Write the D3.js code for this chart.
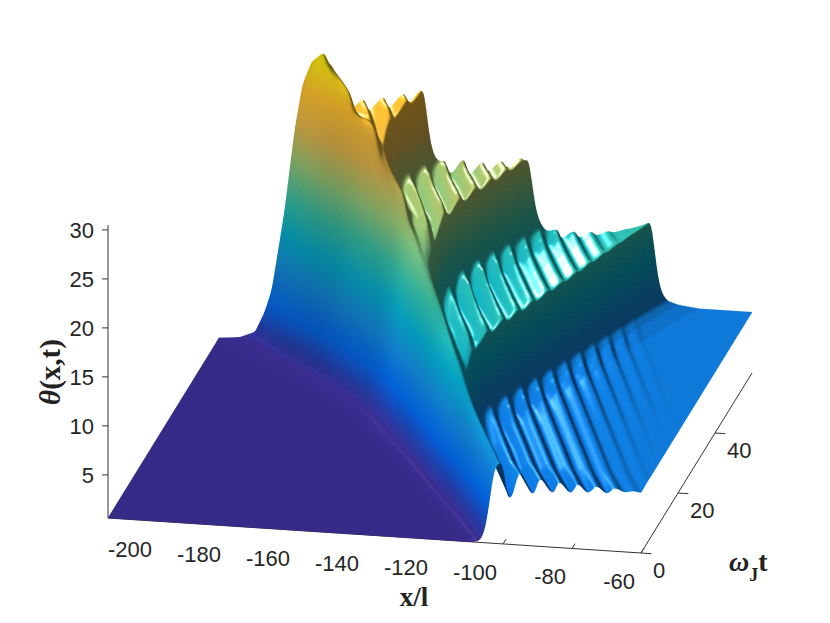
<!DOCTYPE html>
<html>
<head>
<meta charset="utf-8">
<script src="https://cdn.jsdelivr.net/npm/d3@7"></script>
<style>
  html, body { margin: 0; padding: 0; background: #fff; }
  svg { display: block; }
  text { font-family: "Liberation Sans", Arial, sans-serif; fill: #262626; }
  .title { font-family: "Liberation Serif", "Times New Roman", serif; font-weight: bold; fill: #222; }
</style>
</head>
<body>
<script>
// values, one entry per row of tRows
var tRows  = [0, 5, 10, 15, 20, 25, 30, 35, 40, 45, 50, 55, 60];
var footX  = [-106.7, -113, -119.5, -126.5, -133, -139.5, -146.5, -153.5, -160, -170, -180, -193, -204];
var crestX = [-100.9, -106.5, -112.5, -119, -124.5, -130.5, -136.5, -142.5, -147.5, -156.5, -164.5, -176.5, -184.6];
var crestZ = [8.9, 9.3, 10, 11.5, 13.5, 14, 16.2, 18, 19.5, 21.5, 25.5, 27.8, 30.3];

var wall1X = [-99, -104, -110, -117, -122, -128, -134, -140, -145, -154, -162.5, -162, -155.4];
var wall1H = [0, 0, 0, 0, 0, 0, 0, 0, 0, 1.5, 4.5, 5.7, 5.7];
var wall1Lip = [0, 0, 0, 0, 0, 0, 0, 0, 0, 0, 0.4, 1, 2];
var wall2X = [-99, -105, -111, -117.5, -123, -129, -135, -140, -141, -139, -135, -130, -125];
var wall2H = [0, 0, 0, 0, 0, 0, 0, 3, 5.5, 6, 6, 6, 6];
var wall2Lip = [0, 0, 0, 0, 0, 0, 0, 0.3, 0.6, 0.9, 1.1, 1.3, 1.6];
var wall3X = [-100, -105, -110, -117, -122, -118, -114, -110, -106, -102, -98, -94, -89.5];
var wall3H = [0, 0, 0, 2.5, 5.5, 6.6, 6.6, 6.6, 6.6, 6.6, 6.6, 6.6, 6.6];
var wall3Lip = [0, 0, 0, 0, 0.3, 0.7, 0.8, 0.9, 1, 1.2, 1.4, 1.6, 1.9];

// shape of the front, the walls and the lips, read from the back edge of the surface
var faceFrac = [-0.8, -0.5, -0.23, 0, 0.144, 0.25, 0.44, 0.59, 0.71, 0.845, 1];
var faceLift = [0, 0.001, 0.007, 0.029, 0.1, 0.177, 0.45, 0.73, 0.89, 0.97, 1];
var wallRun  = [0, 0.4, 1.2, 2.2, 3.4, 5, 8, 14];
var wallDrop = [0, 0.06, 0.33, 0.66, 0.85, 0.93, 0.97, 1];
var lipRun   = [0, 3, 8, 15, 25];
var lipKeep  = [1, 0.75, 0.45, 0.2, 0];
var crestRun  = [0, 1.5, 3, 4.5, 6, 8];
var crestKeep = [1, 0.97, 0.85, 0.45, 0.15, 0];

// ripples behind the front: position at t=0 and height at five times
var rippleT = [0, 6, 20, 40, 60];
var rippleCrest  = [-130, -124.1, -118.3, -112.5, -106.7, -100.9, -95.1, -89.3, -83.8, -78.3, -72.8, -67.5, -62.3, -57.2, -52.2, -47.3, -42.5];
var rippleTrough = [-127.1, -121.2, -115.4, -109.6, -103.8, -98, -91.3, -85.5, -80.3, -75.4, -69.9, -64.6, -59.7, -54.7, -49.7, -44.9, -40];
var rippleFall  = [1, 0.45, 0.35, 0.3, 0.3];
var rippleAmp0  = [0, 0, 0, 0, 0, 0, 1.15, 0.7, 0.5, 0.4, 0.3, 0.25, 0.07, 0.03, 0, 0, 0];
var rippleAmp6  = [0, 0, 0, 0, 0, 0, 0.6, 0.4, 0.3, 0.25, 0.2, 0.15, 0.07, 0.03, 0, 0, 0];
var rippleAmp20 = [0, 0, 0, 0, 0.2, 0.35, 0.35, 0.3, 0.28, 0.24, 0.2, 0.16, 0.1, 0.05, 0.02, 0, 0];
var rippleAmp40 = [0, 0.3, 0.5, 0.6, 0.7, 0.7, 0.7, 0.7, 0.5, 0.4, 0.3, 0.2, 0.2, 0.14, 0.1, 0.06, 0.03];
var rippleAmp60 = [0.4, 0.5, 0.5, 0.5, 0.5, 0.5, 0.5, 0.5, 0.45, 0.4, 0.3, 0.25, 0.25, 0.25, 0.2, 0.12, 0.06];
var rippleDrift = -0.9;
// how much of a ripple survives at each distance past a wall top
var fadeRun = [-3, 0, 4, 7, 10, 14, 20];
var fadeKeep = [1, 0.3, 0.12, 1, 1.7, 1.2, 1];

var flatLow = 0.6, flatHigh = 6.8;
var xTicks = [-200, -180, -160, -140, -120, -100, -80, -60];
var tTicks = [0, 20, 40];
var zTicks = [5, 10, 15, 20, 25, 30];

var parula = ["#352a87", "#0363e1", "#1485d4", "#06a7c6", "#38b99e", "#92bf73", "#dcb04a", "#f9bb2c", "#e9e30a"];

var width = 830, height = 623;

var svg = d3.select("body").append("svg")
    .attr("width", width)
    .attr("height", height);

// oblique projection, one scale per screen direction of each axis
var xPx = d3.scaleLinear().domain([-214.5, -60]).range([0, 533]);
var xPy = d3.scaleLinear().domain([-214.5, -60]).range([0, 35]);
var tPx = d3.scaleLinear().domain([0, 60]).range([0, 111]);
var tPy = d3.scaleLinear().domain([0, 60]).range([0, -180]);
var zPy = d3.scaleLinear().domain([0.6, 30.5]).range([518, 225]);

function project(x, t, z) {
    return [108 + xPx(x) + tPx(t), zPy(z) + xPy(x) + tPy(t)];
}

var colorScale = d3.scaleLinear()
    .domain(d3.range(parula.length).map(function (i) { return i / (parula.length - 1); }))
    .range(parula)
    .clamp(true);
var colorTable = d3.range(513).map(function (i) { return d3.rgb(colorScale(i / 512)); });

function overT(values) {
    var f = d3.interpolateBasis(values);
    return function (t) { return f(t / 60); };
}
function table(domain, range) {
    return d3.scaleLinear().domain(domain).range(range).clamp(true);
}

var foot = overT(footX), crest = overT(crestX), crestTop = overT(crestZ);
var walls = [
    { x: overT(wall1X), h: overT(wall1H), lip: overT(wall1Lip) },
    { x: overT(wall2X), h: overT(wall2H), lip: overT(wall2Lip) },
    { x: overT(wall3X), h: overT(wall3H), lip: overT(wall3Lip) }
];
var lift = table(faceFrac, faceLift);
var drop = table(wallRun, wallDrop);
var lip = table(lipRun, lipKeep);
var keep = table(crestRun, crestKeep);
var fade = table(fadeRun, fadeKeep);
var fall = table(rippleT, rippleFall);

function rippleAt(t) {
    var amps = rippleAmp0.map(function (d, i) {
        return table(rippleT, [rippleAmp0[i], rippleAmp6[i], rippleAmp20[i], rippleAmp40[i], rippleAmp60[i]])(t);
    });
    var dom = [], ran = [], f = fall(t);
    rippleCrest.forEach(function (d, i) {
        dom.push(d + rippleDrift * t, d + (rippleTrough[i] - d) * f + rippleDrift * t);
        ran.push(amps[i], -1.3 * (i + 1 < amps.length ? amps[i + 1] : 0));
    });
    return d3.scaleLinear().domain(dom).range(ran).clamp(true)
        .interpolate(function (a, b) {
            return function (u) { return a + (b - a) * d3.easeSinInOut(u); };
        });
}

function heightRow(t, xs) {
    var f = foot(t), c = crest(t), top = crestTop(t), w = c - f;
    var ripple = rippleAt(t);
    var ws = walls.map(function (d) { return { x: d.x(t), h: d.h(t), l: d.lip(t) }; });

    function stepsAt(x) {
        var z = flatHigh;
        ws.forEach(function (d) {
            if (x <= d.x) z += d.h + d.l * lip(d.x - x);
            else z += (d.h + d.l) * (1 - drop(x - d.x));
        });
        return z;
    }
    var excess = top - stepsAt(c);

    return xs.map(function (x) {
        if (x <= c) return flatLow + (top - flatLow) * lift((x - f) / w);
        var mask = Math.min(1, (x - c) / 2);
        ws.forEach(function (d) {
            mask *= 1 + (fade(x - d.x) - 1) * Math.min(1, d.h / 4);
        });
        return stepsAt(x) + excess * keep((x - c) * 19.4 / w) + mask * ripple(x);
    });
}

var xs = d3.range(-214.5, -59.9, 0.25);
var ts = d3.range(0, 60.01, 0.25);
var grid = ts.map(function (t) { return heightRow(t, xs); });

// light rounding so the read points do not show as creases
grid = grid.map(function (row) {
    var r = row;
    for (var k = 0; k < 5; k++) {
        r = r.map(function (v, i) {
            return (r[Math.max(i - 1, 0)] + 2 * v + r[Math.min(i + 1, r.length - 1)]) / 4;
        });
    }
    return r;
});
for (var pass = 0; pass < 3; pass++) {
    grid = grid.map(function (row, j) {
        if (j === 0 || j === grid.length - 1) return row;
        var a = grid[j - 1], b = grid[j + 1];
        return row.map(function (v, i) { return (a[i] + 2 * v + b[i]) / 4; });
    });
}

// lighting
var sx = 9.8 / 3.45, st = 9.8 / 3.5;
var L = [-0.75, -0.1, 0.65], H = [-0.53, -0.22, 0.82];
var ambient = 0.45, diffuse = 0.846, specular = 0.9, shine = 70;

function shade(zmid, dzdx, dzdt) {
    var nx = -dzdx * sx, ny = -dzdt * st;
    var n = Math.sqrt(nx * nx + ny * ny + 1);
    nx /= n; ny /= n;
    var nz = 1 / n;
    var dif = Math.max(0, nx * L[0] + ny * L[1] + nz * L[2]);
    var spec = Math.pow(Math.max(0, nx * H[0] + ny * H[1] + nz * H[2]), shine);
    var b = Math.min(1.06, ambient + diffuse * dif);
    var s = specular * spec;
    var lev = (zmid - flatLow) / (30.5 - flatLow);
    if (lev < 0.3) lev = Math.floor(lev * 64) / 63;
    var c = colorTable[Math.max(0, Math.min(512, Math.round(lev * 512)))];
    return "rgb(" + Math.min(255, c.r * b + 255 * s) + "," + Math.min(255, c.g * b + 255 * s) + "," + Math.min(255, c.b * b + 255 * s) + ")";
}

// the surface goes on an oversized canvas that is then placed in the svg
var over = 2;
var canvas = d3.create("canvas").attr("width", width * over).attr("height", height * over).node();
var ctx = canvas.getContext("2d");
ctx.scale(over, over);
ctx.lineWidth = 0.45;
ctx.lineJoin = "round";
var quad = d3.line().context(ctx);

// back to front: far rows first, and inside a row from low x to high x
for (var j = ts.length - 2; j >= 0; j--) {
    for (var i = 0; i < xs.length - 1; i++) {
        var z00 = grid[j][i], z10 = grid[j][i + 1], z01 = grid[j + 1][i], z11 = grid[j + 1][i + 1];
        var col = shade((z00 + z10 + z01 + z11) / 4,
            ((z10 - z00) + (z11 - z01)) / 2 / (xs[i + 1] - xs[i]),
            ((z01 - z00) + (z11 - z10)) / 2 / (ts[j + 1] - ts[j]));
        ctx.beginPath();
        quad([project(xs[i], ts[j], z00), project(xs[i + 1], ts[j], z10),
              project(xs[i + 1], ts[j + 1], z11), project(xs[i], ts[j + 1], z01)]);
        ctx.closePath();
        ctx.fillStyle = col;
        ctx.strokeStyle = col;
        ctx.fill();
        ctx.stroke();
    }
}

// axes sit behind the surface
var axes = svg.append("g").attr("fill", "none").attr("stroke", "#333").attr("stroke-width", 1);
var line = d3.line();

axes.append("path").attr("d", line([project(-214.5, 0, 0.6), project(-60, 0, 0.6)]));
axes.append("path").attr("d", line([project(-60, 0, 0.6), project(-60, 60, 0.6)]));
axes.append("path").attr("d", line([project(-214.5, 0, 0.6), project(-214.5, 0, 30.5)]));

axes.selectAll(".xtick").data(xTicks).join("path").attr("class", "xtick")
    .attr("d", function (d) { return line([project(d, 0, 0.6), project(d, 1.6, 0.6)]); });
axes.selectAll(".ttick").data(tTicks).join("path").attr("class", "ttick")
    .attr("d", function (d) { return line([project(-60, d, 0.6), project(-57, d, 0.6)]); });
axes.selectAll(".ztick").data(zTicks).join("path").attr("class", "ztick")
    .attr("d", function (d) {
        var p = project(-214.5, 0, d);
        return line([p, [p[0] - 6, p[1]]]);
    });

svg.append("image")
    .attr("width", width)
    .attr("height", height)
    .attr("href", canvas.toDataURL());

// tick labels
var labels = svg.append("g").attr("font-size", 22);
labels.selectAll(".xl").data(xTicks).join("text").attr("class", "xl")
    .attr("x", function (d) { return project(d, 0, 0.6)[0] - 6; })
    .attr("y", function (d) { return project(d, 0, 0.6)[1] + 36; })
    .attr("text-anchor", "end")
    .text(function (d) { return d; });
labels.selectAll(".tl").data(tTicks).join("text").attr("class", "tl")
    .attr("x", function (d) { return project(-60, d, 0.6)[0] + 12; })
    .attr("y", function (d) { return project(-60, d, 0.6)[1] + 25; })
    .text(function (d) { return d; });
labels.selectAll(".zl").data(zTicks).join("text").attr("class", "zl")
    .attr("x", 94)
    .attr("y", function (d) { return project(-214.5, 0, d)[1] + 8; })
    .attr("text-anchor", "end")
    .text(function (d) { return d; });

// axis titles
svg.append("text").attr("class", "title")
    .attr("transform", "translate(60,372) rotate(-90)")
    .attr("text-anchor", "middle")
    .attr("font-size", 29)
    .html('<tspan font-style="italic">θ</tspan>(x,t)');
svg.append("text").attr("class", "title")
    .attr("x", 414).attr("y", 606)
    .attr("text-anchor", "middle")
    .attr("font-size", 27)
    .text("x/l");
svg.append("text").attr("class", "title")
    .attr("x", 729).attr("y", 571)
    .attr("font-size", 28)
    .html('<tspan font-style="italic">ω</tspan><tspan font-size="18" dy="10">J</tspan><tspan dy="-10">t</tspan>');
</script>
</body>
</html>
